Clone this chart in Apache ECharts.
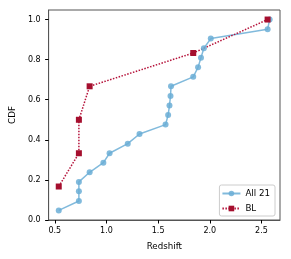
<!DOCTYPE html>
<html><head><meta charset="utf-8">
<script src="https://cdn.jsdelivr.net/npm/echarts@6/dist/echarts.min.js"></script>
<style>html,body{margin:0;padding:0;background:#fff}#c{width:291px;height:259px}</style>
</head><body><div id="c"></div>
<script>
var allX = [0.538,0.733,0.733,0.733,0.837,0.97,1.03,1.206,1.32,1.572,1.597,1.61,1.62,1.625,1.84,1.887,1.915,1.943,2.01,2.56,2.58];
var allY = [0.048,0.095,0.143,0.190,0.238,0.286,0.333,0.381,0.429,0.476,0.524,0.571,0.619,0.667,0.714,0.762,0.810,0.857,0.905,0.952,1.0];
var blX = [0.538,0.733,0.733,0.837,1.84,2.56];
var blY = [0.167,0.333,0.5,0.667,0.833,1.0];
var xTicks = [0.5,1.0,1.5,2.0,2.5];
var yTicks = [0.0,0.2,0.4,0.6,0.8,1.0];
var names = ['All 21','BL'];

function pairs(xs, ys){ return xs.map(function(x,i){return [x, ys[i]];}); }
var font = 'DejaVu Sans';
var chart = echarts.init(document.getElementById('c'));
chart.setOption({
  animation:false,
  grid:{left:43, right:11, top:10, bottom:39, show:true, borderColor:'#555', borderWidth:1},
  xAxis:{type:'value', min:0.44, max:2.68, name:'Redshift', nameLocation:'middle', nameGap:22,
    nameTextStyle:{fontFamily:font, fontSize:8.7, color:'#000'},
    axisLine:{show:true, onZero:false, lineStyle:{color:'#555', width:1}},
    axisTick:{show:true, length:3.5, lineStyle:{color:'#000'}, customValues:xTicks},
    axisLabel:{fontFamily:font, fontSize:8, color:'#000', margin:7, customValues:xTicks,
      formatter:function(v){return v.toFixed(1);}},
    splitLine:{show:false}},
  yAxis:{type:'value', min:0, max:1.0476, name:'CDF', nameLocation:'middle', nameGap:26,
    nameTextStyle:{fontFamily:font, fontSize:8.7, color:'#000'},
    axisLine:{show:true, lineStyle:{color:'#555', width:1}},
    axisTick:{show:true, length:3.5, lineStyle:{color:'#000'}, customValues:yTicks},
    axisLabel:{fontFamily:font, fontSize:8, color:'#000', margin:8, customValues:yTicks,
      formatter:function(v){return v.toFixed(1);}},
    splitLine:{show:false}},
  legend:{right:16, bottom:43, orient:'vertical', itemWidth:18, itemHeight:7, itemGap:6,
    padding:[4,5,3,2], borderColor:'#ccc', borderWidth:1, borderRadius:2, backgroundColor:'#fff',
    textStyle:{fontFamily:font, fontSize:8.7, color:'#000'}, data:names},
  series:[
    {name:names[0], type:'line', data:pairs(allX, allY), symbol:'circle', symbolSize:6,
      itemStyle:{color:'#6baed6', opacity:0.85}, lineStyle:{color:'#6baed6', width:1.5, opacity:0.85}},
    {name:names[1], type:'line', data:pairs(blX, blY), symbol:'rect', symbolSize:6,
      itemStyle:{color:'#a50f2e'}, lineStyle:{color:'#b5123a', width:1.5, type:[1.5,1.5]}}
  ]
});
</script></body></html>
